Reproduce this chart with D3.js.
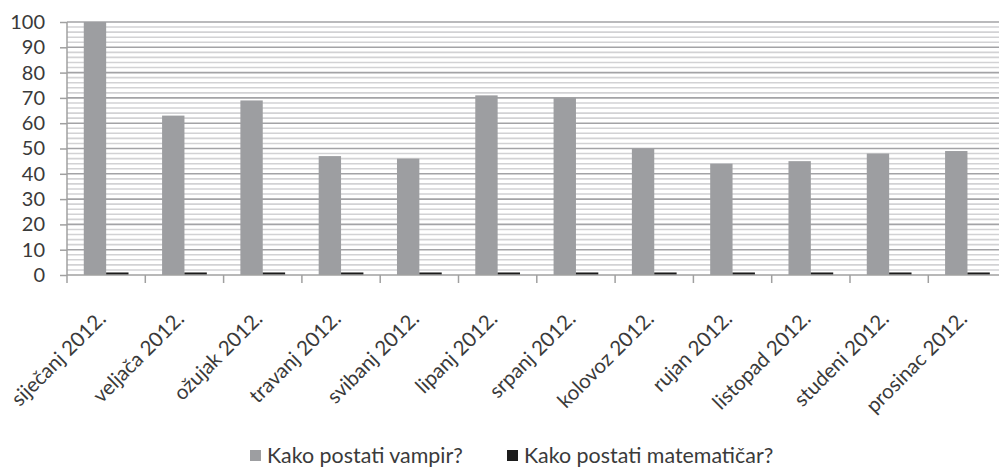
<!DOCTYPE html>
<html><head><meta charset="utf-8">
<script src="https://cdn.jsdelivr.net/npm/d3@7"></script>
<style>html,body{margin:0;padding:0;background:#fff;}svg{display:block;}</style>
</head><body>
<svg id="c" width="999" height="469"></svg>
<script>
const categories = ["siječanj 2012.","veljača 2012.","ožujak 2012.","travanj 2012.","svibanj 2012.","lipanj 2012.","srpanj 2012.","kolovoz 2012.","rujan 2012.","listopad 2012.","studeni 2012.","prosinac 2012."];
const seriesNames = ["Kako postati vampir?","Kako postati matematičar?"];
const vampir = [100,63,69,47,46,71,70,50,44,45,48,49];
const matematicar = [1,1,1,1,1,1,1,1,1,1,1,1];
const yTicks = [0,10,20,30,40,50,60,70,80,90,100];
const colors = ["#9d9ea1","#1c1c1c"];
const font = "Lato, 'Open Sans', sans-serif";
const textColor = "#3a3a3a";

(function () {
const svg = d3.select("#c");
const mLeft = 67, mTop = 22, mBottom = 275, bandW = 78.3;
const mRight = mLeft + categories.length * bandW;

const x = d3.scaleBand().domain(categories).range([mLeft, mRight]).padding(0);
const w = x.bandwidth() / 3.5;
const x1 = d3.scaleBand().domain(seriesNames).range([0.75 * w, 2.75 * w]).padding(0);
const y = d3.scaleLinear().domain([0, 100]).range([mBottom, mTop]);

// minor grid
const minor = d3.range(2, 101, 2).filter(v => v % 10 !== 0);
svg.append("g").selectAll("line").data(minor).join("line")
  .attr("x1", mLeft).attr("x2", mRight)
  .attr("y1", d => y(d)).attr("y2", d => y(d))
  .attr("stroke", "#d2d2d4").attr("stroke-width", 1.6);
// major grid
svg.append("g").selectAll("line").data(yTicks.filter(v => v > 0)).join("line")
  .attr("x1", mLeft).attr("x2", mRight)
  .attr("y1", d => y(d)).attr("y2", d => y(d))
  .attr("stroke", "#a3a3a6").attr("stroke-width", 1.6);

// bars
const data = categories.map((c, i) => ({c, vals: [vampir[i], matematicar[i]]}));
const g = svg.append("g").selectAll("g").data(data).join("g")
  .attr("transform", d => `translate(${x(d.c)},0)`);
g.selectAll("rect").data(d => d.vals.map((v, j) => ({v, s: seriesNames[j], j}))).join("rect")
  .attr("x", d => x1(d.s)).attr("width", x1.bandwidth())
  .attr("y", d => y(d.v)).attr("height", d => y(0) - y(d.v))
  .attr("fill", d => colors[d.j]);

// y axis
const ya = svg.append("g").attr("transform", `translate(${mLeft},0)`)
  .call(d3.axisLeft(y).tickValues(yTicks).tickSize(7).tickPadding(15));
ya.select(".domain").attr("stroke", "#a0a0a0").attr("stroke-width", 1.5).attr("d", `M0,${mTop}V${mBottom}`);
ya.selectAll(".tick line").attr("stroke", "#a0a0a0").attr("stroke-width", 1.5);
ya.selectAll("text").attr("font-family", font).attr("font-size", 20).attr("fill", textColor);

// x axis
const xa = svg.append("g").attr("transform", `translate(0,${mBottom})`);
xa.append("line").attr("x1", mLeft).attr("x2", mRight).attr("y1", 0).attr("y2", 0)
  .attr("stroke", "#a0a0a0").attr("stroke-width", 1.5);
const bounds = d3.range(categories.length + 1).map(i => i === categories.length ? mRight : x(categories[i]));
xa.selectAll(".tk").data(bounds).join("line").attr("class", "tk")
  .attr("x1", d => d).attr("x2", d => d).attr("y1", 0).attr("y2", 8)
  .attr("stroke", "#a0a0a0").attr("stroke-width", 1.5);
svg.append("g").selectAll("text").data(categories).join("text")
  .attr("transform", d => `translate(${x(d) + x.bandwidth() / 2 + 1},320) rotate(-45)`)
  .attr("text-anchor", "end")
  .attr("font-family", font).attr("font-size", 20.5).attr("fill", textColor)
  .text(d => d);

// legend
const legend = [{name: seriesNames[0], x: 250}, {name: seriesNames[1], x: 507}];
const lg = svg.append("g").selectAll("g").data(legend).join("g")
  .attr("transform", d => `translate(${d.x},450)`);
lg.append("rect").attr("width", 11).attr("height", 11).attr("fill", (d, i) => colors[i]);
lg.append("text").attr("x", 17).attr("y", 13)
  .attr("font-family", font).attr("font-size", 21.4).attr("fill", textColor)
  .text(d => d.name);
})();
</script>
</body></html>
